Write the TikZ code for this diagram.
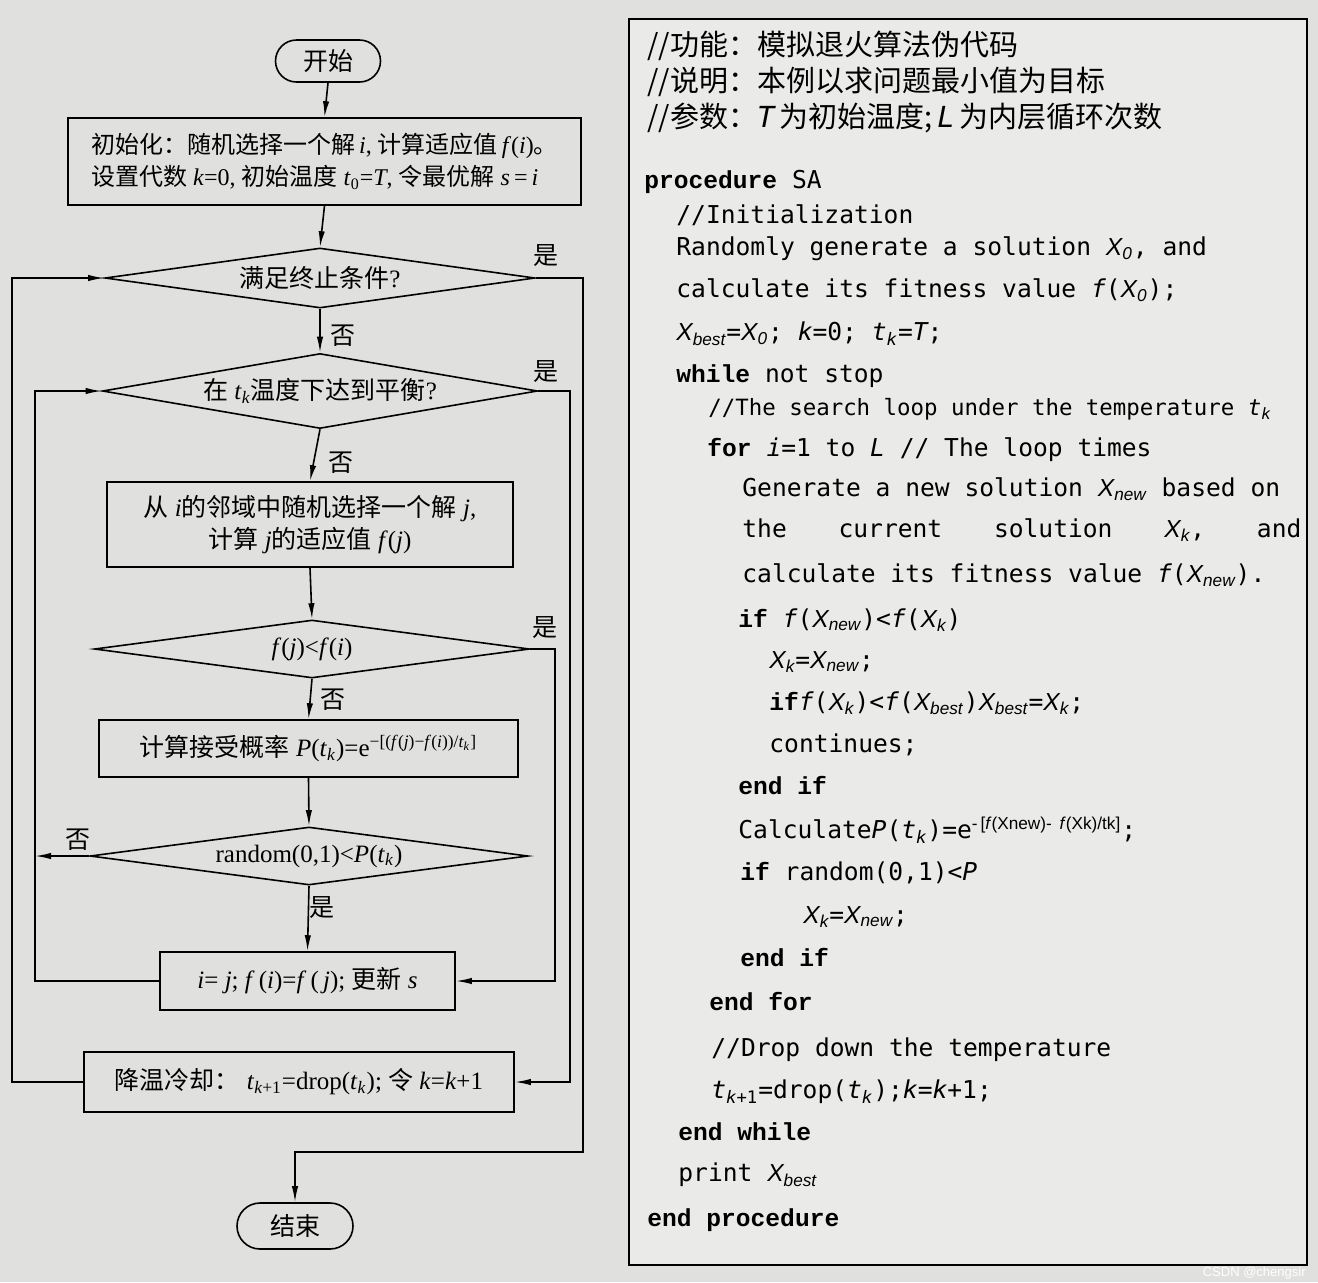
\documentclass[tikz,border=0pt]{standalone}
\usepackage{fontspec}
\setmainfont{Liberation Serif}
\newfontfamily\cjk{Noto Sans CJK SC}
\newfontfamily\cmono{DejaVu Sans Mono}
\newfontfamily\kwf{Liberation Mono}
\newfontfamily\vsans{Liberation Sans}
\usetikzlibrary{shapes.geometric,shapes.misc,arrows.meta}
\definecolor{paper}{RGB}{224,224,222}
\definecolor{codepaper}{RGB}{234,234,232}
\newcommand\fv[1]{\textit{#1}}
\newcommand\kw[1]{{\kwf\bfseries #1}}
\newcommand\Xv[1]{{\vsans\itshape X\textsubscript{#1}}}
\newcommand\cmi[1]{{\cmono\itshape #1}}
\tikzset{
  flow/.style={draw, line width=0.8pt, font=\fontsize{12.5}{16}\selectfont},
  boxnode/.style={flow, rectangle, inner sep=2pt, align=center},
  decide/.style={flow, diamond, inner sep=0pt},
  term/.style={flow, rounded rectangle, inner sep=2pt},
  arr/.style={line width=0.8pt, -{Latex[length=8pt,width=3.2pt]}},
  lbl/.style={font=\cjk\fontsize{12.5}{14}\selectfont, inner sep=0pt},
  code/.style={anchor=west, inner sep=0pt, font=\cmono\fontsize{12.3}{14}\selectfont},
  cjkline/.style={anchor=west, inner sep=0pt, font=\cjk\fontsize{14.5}{16}\selectfont}
}
\begin{document}
\begin{tikzpicture}[x=0.5pt,y=-0.5pt]
\useasboundingbox (0,0) rectangle (1318,1282);
\fill[paper] (0,0) rectangle (1318,1282);

% ---------------- flowchart ----------------
\node[term, minimum width=56.5pt, minimum height=21pt] (start) at (328,61) {\cjk 开始};
\node[flow, rectangle, minimum width=256.5pt, minimum height=43.5pt, inner xsep=4pt, align=left, font=\fontsize{12}{16}\selectfont] (init) at (324.5,161.5)
  {{\cjk 初始化：随机选择一个解}\,\fv{i}, {\cjk 计算适应值}\,\fv{f}(\fv{i}){\cjk 。}\\
   {\cjk 设置代数} \fv{k}=0, {\cjk 初始温度} \fv{t}\textsubscript{0}=\fv{T}, {\cjk 令最优解} \fv{s}\,=\,\fv{i}};
\node[decide, aspect=7, minimum width=215pt, minimum height=30pt] (d1) at (320,278) {{\cjk 满足终止条件}?};
\node[decide, aspect=5.8, minimum width=217.5pt, minimum height=37.5pt] (d2) at (320,391)
  {{\cjk 在} \fv{t}\textsubscript{\fv{k}}{\cjk 温度下达到平衡}?};
\node[boxnode, minimum width=203pt, minimum height=42.5pt] (b3) at (310,524.5)
  {{\cjk 从} \fv{i}{\cjk 的邻域中随机选择一个解} \fv{j},\\{\cjk 计算} \fv{j}{\cjk 的适应值} \fv{f}(\fv{j})};
\node[decide, aspect=7.5, minimum width=217.5pt, minimum height=29pt] (d3) at (312,649)
  {\fv{f}(\fv{j})<\fv{f}(\fv{i})};
\node[boxnode, minimum width=209.5pt, minimum height=28.5pt] (b4) at (308.5,748.5)
  {{\cjk 计算接受概率} \fv{P}(\fv{t}\textsubscript{\fv{k}})=e\textsuperscript{−[(\fv{f}(\fv{j})−\fv{f}(\fv{i}))/\fv{t}\textsubscript{\fv{k}}]}};
\node[decide, aspect=7.5, minimum width=219pt, minimum height=29pt] (d4) at (309,856)
  {random(0,1)<\fv{P}(\fv{t}\textsubscript{\fv{k}})};
\node[boxnode, minimum width=147.5pt, minimum height=29pt] (b5) at (307.5,981)
  {\fv{i}= \fv{j}; \fv{f}\,(\fv{i})=\fv{f}\,(\,\fv{j}); {\cjk 更新} \fv{s}};
\node[boxnode, minimum width=215pt, minimum height=30pt] (b6) at (299,1082)
  {{\cjk 降温冷却：}\;\fv{t}\textsubscript{\fv{k}+1}=drop(\fv{t}\textsubscript{\fv{k}}); {\cjk 令} \fv{k}=\fv{k}+1};
\node[term, minimum width=62pt, minimum height=23pt] (end) at (295,1226) {\cjk 结束};

% straight connectors
\draw[arr] (start.south) -- (init.north);
\draw[arr] (init.south) -- (d1.north);
\draw[arr] (d1.south) -- (d2.north);
\draw[arr] (d2.south) -- (b3.north);
\draw[arr] (b3.south) -- (d3.north);
\draw[arr] (d3.south) -- (b4.north);
\draw[arr] (b4.south) -- (d4.north);
\draw[arr] (d4.south) -- (b5.north);

% loop guides
\coordinate (xo) at (583,0);
\coordinate (xm) at (570,0);
\coordinate (xi) at (555,0);
\coordinate (xl) at (12,0);
\coordinate (xli) at (35,0);
\coordinate (yend) at (0,1152);

\draw[arr] (d1.east) -- (d1.east -| xo) -- (xo |- yend) -- (end.north |- yend) -- (end.north);
\draw[arr] (d2.east) -- (d2.east -| xm) |- (b6.east);
\draw[arr] (d3.east) -- (d3.east -| xi) |- (b5.east);
\draw[arr] (b6.west) -- (b6.west -| xl) |- (d1.west);
\draw[arr] (b5.west) -- (b5.west -| xli) |- (d2.west);
\draw[arr] (d4.west) -- (d4.west -| xli);

% branch labels
\node[lbl] (l1) at (546,256) {是};
\node[lbl] (l2) at (343,336) {否};
\node[lbl] (l3) at (546,372) {是};
\node[lbl] (l4) at (341,463) {否};
\node[lbl] (l5) at (545,628) {是};
\node[lbl] (l6) at (333,700) {否};
\node[lbl] (l7) at (78,840) {否};
\node[lbl] (l8) at (322,908) {是};

% ---------------- pseudocode ----------------
\node[draw, line width=0.8pt, fill=codepaper, anchor=north west, minimum width=339pt, minimum height=623pt, inner sep=0pt] (codebox) at (628,18) {};

\node[cjkline] (c1) at (647,46) {//功能：模拟退火算法伪代码};
\node[cjkline] (c2) at (647,82) {//说明：本例以求问题最小值为目标};
\node[cjkline] (c3) at (647,118) {//参数：\cmi{T}\,为初始温度;\,\cmi{L}\,为内层循环次数};
\node[code] (c4) at (644,182) {\kw{procedure} SA};
\node[code] (c5) at (676,215) {//Initialization};
\node[code] (c6) at (676,249) {Randomly generate a solution \Xv{0}, and};
\node[code] (c7) at (676,290) {calculate its fitness value \cmi{f}(\Xv{0});};
\node[code] (c8) at (676,334) {\Xv{best}=\Xv{0}; \cmi{k}=0; \cmi{t}\textsubscript{\cmi{k}}=\cmi{T};};
\node[code] (c9) at (676,376) {\kw{while} not stop};
\node[code, font=\cmono\fontsize{11.2}{14}\selectfont] (c10) at (708,409) {//The search loop under the temperature \cmi{t}\textsubscript{\cmi{k}}};
\node[code] (c11) at (707,450) {\kw{for} \cmi{i}=1 to \cmi{L} // The loop times};
\node[code] (c12) at (742,489) {Generate a new solution \Xv{new} based on};
\node[code] (c13) at (742,530) {\makebox[279.5pt]{the\hfill current\hfill solution\hfill\Xv{k},\hfill and}};
\node[code] (c14) at (742,575) {calculate its fitness value \cmi{f}(\Xv{new}).};
\node[code] (c15) at (738,620) {\kw{if} \cmi{f}(\Xv{new})<\cmi{f}(\Xv{k})};
\node[code] (c16) at (769,662) {\Xv{k}=\Xv{new};};
\node[code] (c17) at (769,703) {\kw{if}\cmi{f}(\Xv{k})<\cmi{f}(\Xv{best})\Xv{best}=\Xv{k};};
\node[code] (c18) at (769,745) {continues;};
\node[code] (c19) at (738,786) {\kw{end if}};
\node[code] (c20) at (738,830) {Calculate\cmi{P}(\cmi{t}\textsubscript{\cmi{k}})=e\textsuperscript{\vsans-\,[\textit{f}(Xnew)-\, \textit{f}(Xk)/tk]};};
\node[code] (c21) at (740,873) {\kw{if} random(0,1)<\cmi{P}};
\node[code] (c22) at (803,917) {\Xv{k}=\Xv{new};};
\node[code] (c23) at (740,958) {\kw{end if}};
\node[code] (c24) at (709,1002) {\kw{end for}};
\node[code] (c25) at (711,1050) {//Drop down the temperature};
\node[code] (c26) at (711,1092) {\cmi{t}\textsubscript{\cmi{k}+1}=drop(\cmi{t}\textsubscript{\cmi{k}});\cmi{k}=\cmi{k}+1;};
\node[code] (c27) at (678,1132) {\kw{end while}};
\node[code] (c28) at (678,1175) {print \Xv{best}};
\node[code] (c29) at (647,1220) {\kw{end procedure}};

\node[anchor=east, inner sep=0pt, text=white, font=\vsans\fontsize{6.5}{8}\selectfont] (wm) at (1306,1273) {CSDN @chengsir};
\end{tikzpicture}
\end{document}
